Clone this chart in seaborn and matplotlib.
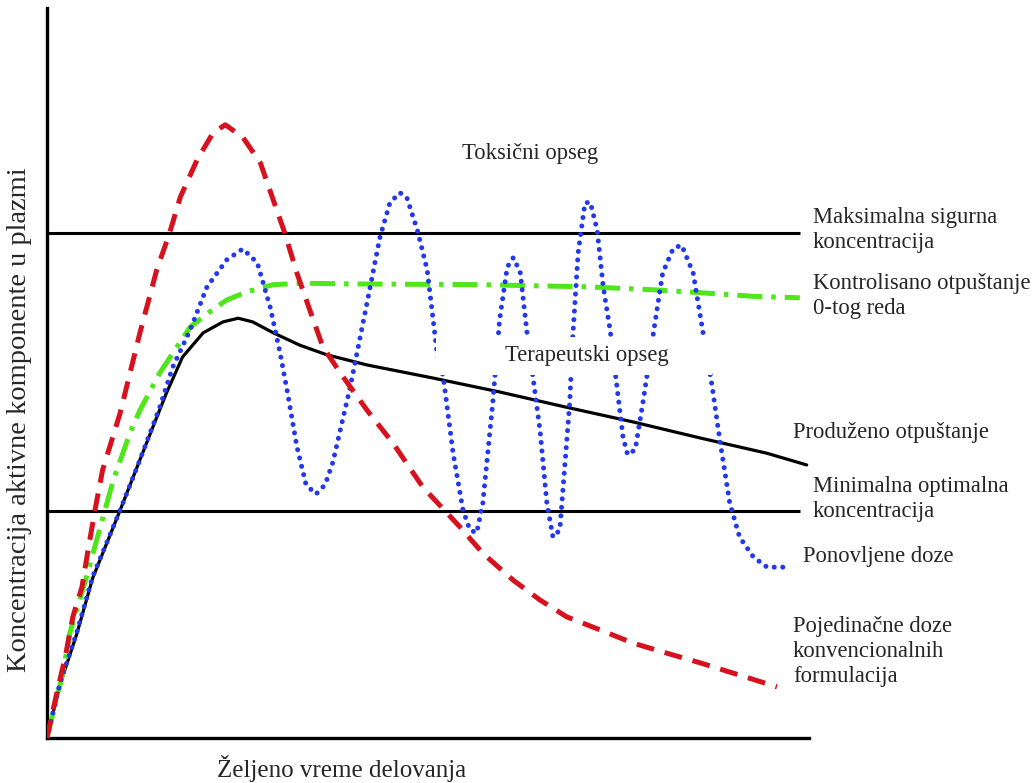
import numpy as np
import pandas as pd
from matplotlib import pyplot as plt
from matplotlib.patches import Rectangle
import seaborn as sns

# values (time and concentration in % of axis)
single_t = [0, 1.3, 2.4, 3.4, 4.6, 5.4, 6.3, 7.3, 9.6, 12.2, 14.4, 16.1, 17.5, 19.7, 21.8, 23.4,
            25.7, 28.0, 29.7, 31.2, 32.8, 34.5, 36.2, 38.5, 42.0, 45.4, 49.3, 54.2, 57.2, 61.2,
            64.7, 68.2, 72.6, 76.9, 81.4, 85.7, 90.0, 95.8]
single_c = [0, 6.2, 11.1, 16.6, 20.7, 25.8, 31.2, 36.7, 44.5, 55.5, 64.1, 69.2, 74.1, 79.2, 82.9, 84.0,
            82.3, 78.8, 73.7, 69.2, 63.7, 58.6, 53.6, 50.0, 44.9, 40.4, 34.4, 28.9, 25.3, 21.6,
            18.9, 16.6, 14.8, 13.0, 11.6, 10.3, 8.9, 7.0]

repeat_t = [0, 1.7, 3.9, 6.0, 9.6, 12.2, 14.8, 16.5, 18.8, 21.0, 23.6, 25.7, 27.6, 29.3, 30.6, 31.5,
            32.8, 34.0, 35.3, 36.5, 37.5, 39.8, 42.0, 43.7, 45.0, 46.3, 47.2, 48.6, 49.9, 51.2,
            52.0, 53.3, 54.6, 55.5, 56.4, 57.2, 58.5, 59.4, 60.4, 61.2, 62.1, 63.0, 64.7, 65.6,
            66.4, 67.3, 68.6, 69.0, 69.7, 70.6, 71.3, 72.2, 73.0, 73.9, 74.8, 75.6, 76.2, 77.2,
            78.2, 79.5, 80.8, 82.2, 83.3, 84.8, 86.1, 87.3, 88.3, 89.6, 90.9, 92.7, 94.5, 96.6]
repeat_c = [0, 7.5, 14.4, 22.1, 31.2, 38.1, 45.3, 50.8, 55.9, 61.8, 65.5, 67.0, 65.1, 59.0, 52.7, 47.7,
            39.9, 34.7, 33.4, 34.7, 37.7, 48.1, 59.6, 68.6, 73.3, 74.7, 74.1, 69.6, 64.1, 52.7,
            49.5, 39.0, 31.2, 28.5, 28.1, 32.2, 45.9, 57.3, 64.5, 65.8, 63.8, 55.5, 42.2, 32.2,
            27.5, 28.5, 45.9, 54.9, 66.4, 73.3, 73.4, 69.6, 61.8, 55.9, 48.1, 41.2, 38.8, 39.5,
            45.9, 54.9, 63.7, 67.1, 67.5, 63.7, 55.5, 48.1, 40.8, 32.2, 27.5, 24.8, 23.4, 23.4]

zero_t = [0, 2.1, 3.0, 4.3, 5.2, 7.0, 8.7, 10.9, 12.2, 14.8, 16.5, 18.8, 21.4, 23.6, 26.2, 29.7,
          33.6, 39.8, 56.8, 70.9, 79.5, 85.7, 92.7, 98.8]
zero_c = [0, 8.9, 14.4, 18.9, 22.1, 28.9, 35.3, 41.8, 44.9, 50.0, 52.7, 56.3, 58.4, 60.0, 61.1, 62.1,
          62.3, 62.2, 62.1, 61.8, 61.4, 61.0, 60.5, 60.3]

prolonged_t = [0, 1.7, 3.9, 6.0, 9.6, 12.2, 13.9, 15.7, 17.8, 20.5, 23.1, 25.1, 27.0, 29.7, 33.2,
               36.7, 42.0, 50.7, 59.4, 68.2, 76.9, 85.7, 94.5, 99.7]
prolonged_c = [0, 7.3, 14.2, 21.9, 31.2, 38.1, 42.6, 47.3, 52.2, 55.5, 57.0, 57.5, 57.0, 55.5, 53.8,
               52.5, 51.1, 49.3, 47.4, 45.3, 43.3, 41.1, 39.0, 37.4]

max_safe = 69.2
min_optimal = 31.1

sns.set_style("white")
plt.rcParams['font.family'] = ['Liberation Serif', 'DejaVu Serif']

fig = plt.figure(figsize=(10.32, 7.83), dpi=100)
ax = fig.add_axes([0.0455, 0.0575, 0.7384, 0.9323])

ax.hlines([max_safe, min_optimal], 0, 98.8, color="black", lw=2.2, zorder=2)

single = pd.DataFrame({"t": single_t, "c": single_c})
repeat = pd.DataFrame({"t": repeat_t, "c": repeat_c})
zero = pd.DataFrame({"t": zero_t, "c": zero_c})
prolonged = pd.DataFrame({"t": prolonged_t, "c": prolonged_c})

sns.lineplot(data=prolonged, x="t", y="c", ax=ax, color="black", lw=2.3,
             estimator=None, sort=False, zorder=3)
sns.lineplot(data=zero, x="t", y="c", ax=ax, color="#4fe61a", lw=3.6,
             linestyle=(0, (5, 1.8, 0.9, 1.8)), estimator=None, sort=False, zorder=4)
sns.lineplot(data=repeat, x="t", y="c", ax=ax, color="#2238ec", lw=3.6,
             linestyle=(0, (0.01, 1.7)), dash_capstyle="round", estimator=None, sort=False, zorder=5)
sns.lineplot(data=single, x="t", y="c", ax=ax, color="#d5121e", lw=3.6,
             linestyle=(0, (3.6, 2.2)), estimator=None, sort=False, zorder=6)

# white box behind the therapeutic range label
ax.add_patch(Rectangle((51.0, 49.7), 36.3, 5.2, facecolor="white", edgecolor="none", zorder=7))
ax.text(70.9, 52.4, "Terapeutski opseg", ha="center", va="center", fontsize=16.3, zorder=8)
ax.text(63.4, 80.1, "Toksični opseg", ha="center", va="center", fontsize=16.3)

right_labels = [
    (100.5, 69.6, "Maksimalna sigurna\nkoncentracija"),
    (100.5, 60.5, "Kontrolisano otpuštanje\n0-tog reda"),
    (97.9, 41.8, "Produženo otpuštanje"),
    (100.5, 32.7, "Minimalna optimalna\nkoncentracija"),
    (99.2, 24.8, "Ponovljene doze"),
    (97.9, 11.8, "Pojedinačne doze\nkonvencionalnih\nformulacija"),
]
for x, y, s in right_labels:
    ax.text(x, y, s, ha="left", va="center", fontsize=16.3, linespacing=1.25, clip_on=False)

ax.set_xlim(0, 100)
ax.set_ylim(0, 100)
ax.set_xticks([])
ax.set_yticks([])
sns.despine(ax=ax)
for side in ["left", "bottom"]:
    ax.spines[side].set_linewidth(2.4)
    ax.spines[side].set_color("black")

ax.set_xlabel("Željeno vreme delovanja", fontsize=18)
ax.xaxis.set_label_coords(0.386, -0.024)
ax.set_ylabel("Koncentracija aktivne komponente u plazmi", fontsize=20.5)
ax.yaxis.set_label_coords(-0.02, 0.436)

plt.savefig("out.png", dpi=100)
